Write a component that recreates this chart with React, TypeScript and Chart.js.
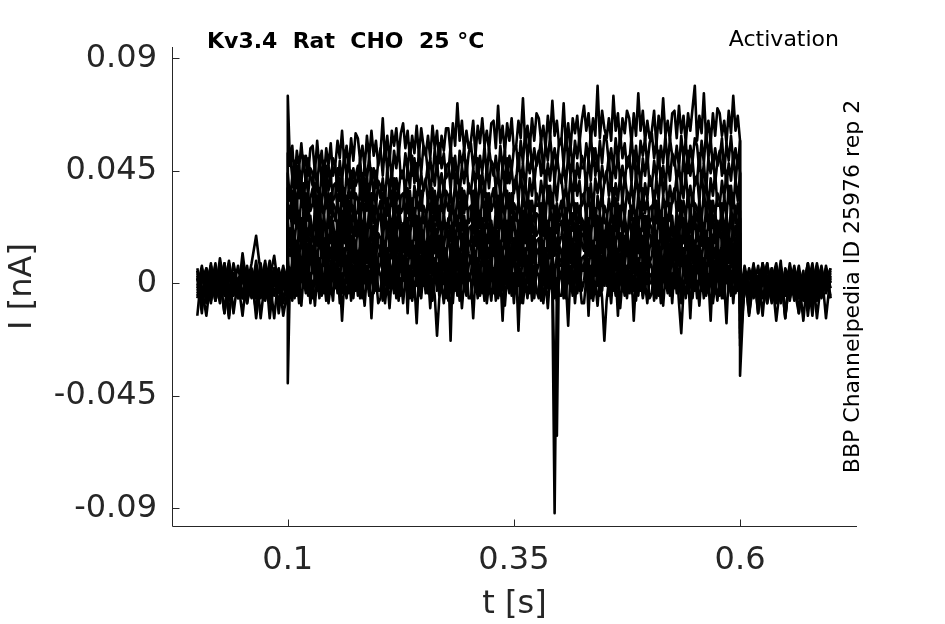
import React, { useEffect, useRef } from "react";
import { Chart, registerables } from "chart.js";

Chart.register(...registerables);

// Time grid in milliseconds (the repeated 100 and 600 entries give the vertical step edges)
const TIME_MS = [
  0, 5, 10, 15, 20, 25, 30, 35, 40, 45,
  50, 55, 60, 65, 70, 75, 80, 85, 90, 95, 100,
  100,
  102.5, 105, 107.5, 110, 112.5, 115, 117.5, 120, 122.5, 125,
  127.5, 130, 132.5, 135, 137.5, 140, 142.5, 145, 147.5, 150,
  152.5, 155, 157.5, 160, 162.5, 165, 167.5, 170, 172.5, 175,
  177.5, 180, 182.5, 185, 187.5, 190, 192.5, 195, 197.5, 200,
  202.5, 205, 207.5, 210, 212.5, 215, 217.5, 220, 222.5, 225,
  227.5, 230, 232.5, 235, 237.5, 240, 242.5, 245, 247.5, 250,
  252.5, 255, 257.5, 260, 262.5, 265, 267.5, 270, 272.5, 275,
  277.5, 280, 282.5, 285, 287.5, 290, 292.5, 295, 297.5, 300,
  302.5, 305, 307.5, 310, 312.5, 315, 317.5, 320, 322.5, 325,
  327.5, 330, 332.5, 335, 337.5, 340, 342.5, 345, 347.5, 350,
  352.5, 355, 357.5, 360, 362.5, 365, 367.5, 370, 372.5, 375,
  377.5, 380, 382.5, 385, 387.5, 390, 392.5, 395, 397.5, 400,
  402.5, 405, 407.5, 410, 412.5, 415, 417.5, 420, 422.5, 425,
  427.5, 430, 432.5, 435, 437.5, 440, 442.5, 445, 447.5, 450,
  452.5, 455, 457.5, 460, 462.5, 465, 467.5, 470, 472.5, 475,
  477.5, 480, 482.5, 485, 487.5, 490, 492.5, 495, 497.5, 500,
  502.5, 505, 507.5, 510, 512.5, 515, 517.5, 520, 522.5, 525,
  527.5, 530, 532.5, 535, 537.5, 540, 542.5, 545, 547.5, 550,
  552.5, 555, 557.5, 560, 562.5, 565, 567.5, 570, 572.5, 575,
  577.5, 580, 582.5, 585, 587.5, 590, 592.5, 595, 597.5, 600,
  600,
  605, 610, 615, 620, 625, 630, 635, 640, 645, 650,
  655, 660, 665, 670, 675, 680, 685, 690, 695, 700,
];

// Current traces in pA (1 pA = 0.001 nA): pre-step, onset, step (20 rows), offset, post-step
const I01 = [
  2, -12, 6, -3, 8, -6, 1, -14, 4, -2,
  7, -4, 0, -11, 5, -1, 9, -5, 3, -13, -2,
  -40,
  4, -7, 6, -5, 2, -9, 3, -4, 5, -8,
  1, -9, 3, -6, 7, -4, 4, -8, 0, -7,
  6, -4, 3, -15, 1, -6, 5, -7, 4, -3,
  3, -6, 0, -9, 4, -5, 6, -4, 2, -8,
  -6, 5, -8, 1, -10, 3, -3, 4, -7, 2,
  -8, 2, -5, 6, -7, 0, -16, 3, -6, 5,
  -4, 4, -10, 2, -5, -21, -6, 0, -8, 3,
  -7, 1, -8, 5, -4, 3, -10, 1, -5, 4,
  1, -14, 3, -6, 7, -4, 4, -8, 0, -7,
  4, -7, 6, -5, 2, -9, 3, -4, 5, -8,
  6, -19, 3, -8, 1, -6, 5, -7, 4, -3,
  -6, 5, -8, 1, -10, 3, -3, 4, -7, 2,
  3, -6, 0, -17, 4, -5, 6, -4, 2, -8,
  -8, 2, -5, 6, -7, 0, -9, 3, -6, -23,
  -7, 1, -8, 5, -4, 3, -10, 1, -5, 4,
  -4, 4, -15, 2, -5, 5, -6, 0, -8, 3,
  4, -7, 6, -5, 2, -9, 3, -4, 5, -8,
  6, -4, 3, -8, 1, -6, 5, -14, 4, -3,
  1, -9, 3, -6, 7, -4, 4, -8, 0, -7,
  3, -6, 0, -16, 4, -5, 6, -4, 2, -8,
  -3,
  5, -13, 2, -8, 7, -3, 4, -15, 1, -5,
  8, -2, -12, 3, -4, 6, -14, 2, -3, 5,
];
const I02 = [
  -13, 6, -1, 4, -7, 3, -12, 8, -2, 1,
  -6, 5, -3, 7, -14, 2, -4, 6, -1, 3, 5,
  3,
  -4, 7, -6, 3, -8, 5, -1, 6, -5, 4,
  -6, 4, -3, 8, -5, 2, -7, 5, -4, 7,
  -2, 6, -8, 4, -3, 7, -4, 2, -6, 5,
  -5, 3, -6, 7, -2, 5, -14, 3, -3, 6,
  3, -7, 5, -4, 9, -2, 6, -6, 2, -5,
  8, -2, 5, -6, 3, -4, 7, -5, 6, -1,
  5, -4, 2, -7, 6, -3, 8, -2, 4, -6,
  6, -23, 8, -3, 4, -7, 5, -2, 7, -6,
  -6, 4, -3, 8, -5, 2, -7, 5, -4, 7,
  -4, 7, -6, 3, -15, 5, -1, 6, -5, 4,
  -2, 6, -8, 4, -3, 7, -4, 2, -6, 5,
  3, -7, 5, -4, 9, -2, 6, -6, 2, -5,
  -5, 3, -6, 7, -2, 5, -8, 3, -3, 6,
  8, -2, 5, -6, 3, -4, 7, -5, 6, -1,
  6, -5, 8, -3, 4, -13, 5, -2, 7, -6,
  5, -4, 2, -7, 6, -3, 8, -2, 4, -6,
  -4, 7, -6, 3, -8, 5, -1, 6, -5, 4,
  -2, 6, -8, -20, -3, 7, -4, 2, -6, 5,
  -6, 4, -3, 8, -5, 2, -15, 5, -4, 7,
  -5, 3, -6, 7, -2, 5, -8, 3, -3, 6,
  -6,
  2, -7, 5, -12, 8, -5, 1, -2, 6, -14,
  4, -1, 7, -5, 3, -13, 5, -2, 0, 6,
];
const I03 = [
  5, -2, -13, 3, -4, 10, -1, 6, -12, 2,
  4, -8, 1, 6, -3, 8, -14, 2, -2, 7, -4,
  7,
  6, -4, 8, -1, 12, 1, 9, -3, 5, -2,
  11, 1, 8, -3, 6, -1, 10, -2, 9, 2,
  8, -1, 5, -4, 9, 0, 11, 1, 7, -3,
  9, -2, 11, 0, 7, -4, 8, 1, 10, -3,
  -3, 7, 0, 11, -2, 5, -4, 8, -1, 10,
  1, 9, -12, 7, 0, 10, -1, 5, -3, 8,
  -2, 6, -3, 10, 1, 8, -5, 6, 0, 9,
  -1, 10, -3, 6, -5, 8, 2, 9, -2, 7,
  11, 1, 8, -3, 6, -1, 10, -2, 9, 2,
  6, -4, 8, -1, 12, 1, 9, -3, 5, -2,
  8, -1, 5, -4, 9, 0, 11, 1, 7, -3,
  -3, 7, 0, 11, -2, 5, -4, -92, -1, 10,
  9, -2, 11, 0, 7, -4, 8, 1, 10, -3,
  1, 9, -13, 7, 0, 10, -1, 5, -3, 8,
  -1, 10, -3, 6, -5, 8, 2, 9, -2, 7,
  -2, 6, -3, 10, 1, 8, -5, 6, 0, 9,
  6, -4, 8, -1, 12, 1, 9, -3, 5, -2,
  8, -1, 5, -4, 9, 0, 11, 1, 7, -3,
  11, 1, 8, -3, 6, -1, 10, -2, 9, 2,
  9, -2, 11, 0, 7, -4, 8, 1, 10, -3,
  -9,
  -4, 6, -1, 3, -13, 8, -3, 5, -6, 2,
  -2, 7, -12, 1, -8, 4, -1, 6, -14, 3,
];
const I04 = [
  -6, 3, -1, 7, -5, 2, -12, 4, 0, -3,
  6, -2, 5, -14, 1, -4, 7, -1, 3, -7, 2,
  9,
  0, 10, 3, 14, 1, 8, -1, 11, 2, 13,
  4, 12, -2, 10, 3, 13, 2, 8, 0, 11,
  1, 9, 0, 13, 4, 11, -2, 9, 3, 12,
  2, 13, 0, 9, -2, 11, 5, 12, 1, 10,
  14, 4, 11, 0, 9, 2, 13, 1, 12, 5,
  11, 2, 8, -1, 12, 3, 14, 4, 10, 0,
  12, 1, 14, 3, 10, -1, 11, 4, 13, 0,
  9, -1, 11, 2, 15, 4, 12, 0, 8, 1,
  4, 12, -2, 10, 3, 13, 2, 8, 0, 11,
  0, 10, 3, 14, 1, 8, -1, 11, 2, 13,
  1, 9, 0, 13, 4, 11, -2, 9, 3, 12,
  14, 4, 11, 0, 9, 2, 13, 1, 12, 5,
  2, 13, 0, 9, -2, 11, 5, 12, 1, 10,
  11, 2, 8, -1, 12, 3, 14, 4, 10, 0,
  9, -1, 11, 2, 15, 4, 12, 0, 8, 1,
  12, 1, 14, 3, 10, -1, 11, 4, 13, 0,
  0, 10, 3, 14, 1, 8, -1, 11, 2, 13,
  1, 9, 0, 13, 4, 11, -2, 9, 3, 12,
  4, 12, -2, 10, 3, 13, 2, 8, 0, 11,
  2, 13, 0, 9, -2, 11, 5, 12, 1, 10,
  -12,
  3, -5, 7, -2, 4, -8, 1, 6, -4, 2,
  -7, 5, 0, -3, 8, -6, 3, -1, 5, -5,
];
const I05 = [
  4, -7, 2, -3, 6, -1, 8, -6, 3, -4,
  1, 7, -5, 2, -2, 5, -8, 4, -1, 6, -3,
  14,
  18, 8, 15, 4, 13, 6, 17, 5, 16, 9,
  15, 6, 12, 3, 16, 7, 18, 8, 14, 4,
  16, 5, 18, 7, 14, 3, 15, 8, 17, 4,
  13, 3, 15, 6, 19, 8, 16, 4, 12, 5,
  8, 16, 2, 14, 7, 17, 6, 12, 4, 15,
  5, 13, 4, 17, 8, 15, 2, 13, 7, 16,
  6, 17, 4, 13, 2, 15, 9, 16, 5, 14,
  4, 14, 7, 18, 5, 12, 3, 15, 6, 17,
  15, 6, 12, 3, 16, 7, 18, 8, 14, 4,
  18, 8, 15, 4, 13, 6, 17, 5, 16, 9,
  16, 5, 18, 7, 14, 3, 15, 8, 17, 4,
  8, 16, 2, 14, 7, 17, 6, -43, -61, 15,
  13, 3, 15, 6, 19, 8, 16, 4, 12, 5,
  5, 13, 4, 17, 8, 15, 2, 13, 7, 16,
  4, 14, 7, 18, 5, 12, 3, 15, 6, 17,
  6, 17, 4, 13, 2, 15, 9, 16, 5, 14,
  18, 8, 15, 4, 13, 6, 17, 5, 16, 9,
  16, 5, 18, 7, 14, 3, 15, 8, 17, 4,
  15, 6, 12, 3, 16, 7, 18, 8, 14, 4,
  13, 3, 15, 6, 19, 8, 16, 4, 12, 5,
  -8,
  5, -3, 8, -12, 2, -1, 6, -4, 9, -13,
  1, -5, 4, -2, 7, -8, 3, -3, 6, 0,
];
const I06 = [
  -1, 5, -4, 8, -7, 3, -2, 6, -5, 1,
  -13, 4, -3, 9, -6, 2, -1, 5, -12, 3, 0,
  15,
  11, 19, 5, 17, 10, 20, 9, 15, 7, 18,
  8, 16, 7, 20, 11, 18, 5, 16, 10, 19,
  9, 20, 7, 16, 5, 18, 12, 19, 8, 17,
  7, 17, 10, 21, 8, 15, 6, 18, 9, 20,
  18, 9, 15, 6, 19, 10, 21, 11, 17, 7,
  19, 8, 21, 10, 17, 6, 18, 11, 20, 7,
  16, 6, 18, 9, 22, 11, 19, 7, 15, 8,
  21, 11, 18, 7, 16, 9, 20, 8, 19, 12,
  8, 16, 7, 20, 11, 18, 5, 16, 10, 19,
  11, 19, 5, 17, 10, 20, 9, 15, 7, 18,
  9, 20, 7, 16, 5, 18, 12, 19, 8, 17,
  18, 9, 15, 6, 19, 10, 21, 11, 17, 7,
  7, 17, 10, 21, 8, 15, 6, 18, 9, 20,
  19, 8, 21, 10, 17, 6, 18, 11, 20, 7,
  21, 11, 18, 7, 16, 9, 20, 8, 19, 12,
  16, 6, 18, 9, 22, 11, 19, 7, 15, 8,
  11, 19, 5, 17, 10, 20, 9, 15, 7, 18,
  9, 20, 7, 16, 5, 18, 12, 19, 8, 17,
  8, 16, 7, 20, 11, 18, 5, 16, 10, 19,
  7, 17, 10, 21, 8, 15, 6, 18, 9, 20,
  -15,
  -4, 5, -2, 7, -6, 3, -8, 1, 6, -3,
  4, -7, 2, -1, 8, -5, 5, -4, 3, -6,
];
const I07 = [
  6, -4, 1, -8, 5, -2, 7, -5, 2, -6,
  3, -1, 8, 19, 4, -7, 1, 6, -3, 5, -5,
  20,
  22, 13, 19, 10, 23, 14, 25, 15, 21, 11,
  23, 12, 25, 14, 21, 10, 22, 15, 24, 11,
  20, 10, 22, 13, 26, 15, 23, 11, 19, 12,
  25, 15, 22, 11, 20, 13, 24, 12, 23, 16,
  12, 20, 11, 24, 15, 22, 9, 20, 14, 23,
  13, 24, 11, 20, 9, 22, 16, 23, 12, 21,
  11, 21, 14, 25, 12, 19, 10, 22, 13, 24,
  15, 23, 9, 21, 14, 24, 13, 19, 11, 22,
  23, 12, 25, 14, 21, 10, 22, 15, 24, 11,
  22, 13, 19, 10, 23, 14, 25, 15, 21, 11,
  20, 10, 22, 13, 26, 15, 23, 11, 19, 12,
  12, 20, 11, 24, 15, 22, 9, 20, 14, 23,
  25, 15, 22, 11, 20, 13, 24, 12, 23, 16,
  13, 24, 11, 20, 9, 22, 16, 23, 12, 21,
  15, 23, 9, 21, 14, 24, 13, 19, 11, 22,
  11, 21, 14, 25, 12, 19, 10, 22, 13, 24,
  22, 13, 19, 10, 23, 14, 25, 15, 21, 11,
  20, 10, 22, 13, 26, 15, 23, 11, 19, 12,
  23, 12, 25, 14, 21, 10, 22, 15, 24, 11,
  25, 15, 22, 11, 20, 13, 24, 12, 23, 16,
  -6,
  7, -2, 4, -6, 1, 8, -4, 3, -7, 5,
  -1, 6, -5, 2, -3, 7, -6, 4, -2, 1,
];
const I08 = [
  -5, 2, -3, 7, -6, 4, -1, 9, -4, 1,
  5, -7, 3, -2, 6, -5, 2, -14, 4, -1, 7,
  24,
  16, 24, 15, 28, 19, 26, 13, 24, 18, 27,
  17, 28, 15, 24, 13, 26, 20, 27, 16, 25,
  15, 25, 18, 29, 16, 23, 14, 26, 17, 28,
  19, 27, 13, 25, 18, 28, 17, 23, 15, 26,
  27, 16, 29, 18, 25, 14, 26, 19, 28, 15,
  24, 14, 26, 17, 30, 19, 27, 15, 23, 16,
  29, 19, 26, 15, 24, 17, 28, 16, 27, 20,
  26, 17, 23, 14, 27, 18, 29, 19, 25, 15,
  17, 28, 15, 24, 13, 26, 20, 27, 16, 25,
  16, 24, 15, 28, 19, 26, 13, 24, 18, 27,
  15, 25, 18, 29, 16, 23, 14, 26, 17, 28,
  27, 16, 29, 18, 25, 14, 26, 19, 28, 15,
  19, 27, 13, 25, 18, 28, 17, 23, 15, 26,
  24, 14, 26, 17, 30, 19, 27, 15, 23, 16,
  26, 17, 23, 14, 27, 18, 29, 19, 25, 15,
  29, 19, 26, 15, 24, 17, 28, 16, 27, 20,
  16, 24, 15, 28, 19, 26, 13, 24, 18, 27,
  15, 25, 18, 29, 16, 23, 14, 26, 17, 28,
  17, 28, 15, 24, 13, 26, 20, 27, 16, 25,
  19, 27, 13, 25, 18, 28, 17, 23, 15, 26,
  -10,
  -3, 4, -6, 2, -1, 7, -5, 3, -8, 6,
  2, -4, 5, -7, 1, -2, 8, -3, 4, -6,
];
const I09 = [
  3, -6, 5, -1, 2, -8, 6, -3, 4, -5,
  12, -2, 1, -6, 7, -4, 3, -1, 5, -8, 2,
  28,
  31, 20, 33, 22, 29, 18, 30, 23, 32, 19,
  19, 29, 22, 33, 20, 27, 18, 30, 21, 32,
  30, 21, 27, 18, 31, 22, 33, 23, 29, 19,
  21, 32, 19, 28, 17, 30, 24, 31, 20, 29,
  33, 23, 30, 19, 28, 21, 32, 20, 31, 24,
  20, 28, 19, 32, 23, 30, 17, 28, 22, 31,
  28, 18, 30, 21, 34, 23, 31, 19, 27, 20,
  23, 31, 17, 29, 22, 32, 21, 27, 19, 30,
  31, 20, 33, 22, 29, 18, 30, 23, 32, 19,
  19, 29, 22, 33, 20, 27, 18, 30, 21, 32,
  30, 21, 27, 18, 31, 22, 33, 23, 29, 19,
  21, 32, 19, 28, 17, 30, 24, 31, 20, 29,
  33, 23, 30, 19, 28, 21, 32, 20, 31, 24,
  20, 28, 19, 32, 23, 30, 17, 28, 22, 31,
  28, 18, 30, 21, 34, 23, 31, 19, 27, 20,
  23, 31, 17, 29, 22, 32, 21, 27, 19, 30,
  31, 20, 33, 22, 29, 18, 30, 23, 32, 19,
  19, 29, 22, 33, 20, 27, 18, 30, 21, 32,
  30, 21, 27, 18, 31, 22, 33, 23, 29, 19,
  21, 32, 19, 28, 17, 30, 24, 31, 20, 29,
  -18,
  5, -1, 3, -6, 8, -3, 2, -7, 4, -2,
  -5, 6, -1, 3, -8, 5, -2, 7, -4, 2,
];
const I10 = [
  -2, 7, -5, 3, -7, 1, 5, -4, 8, -1,
  -6, 3, -3, 6, -2, 9, -7, 2, -4, 4, 1,
  32,
  26, 37, 24, 33, 22, 35, 29, 36, 25, 34,
  38, 28, 35, 24, 33, 26, 37, 25, 36, 29,
  25, 33, 24, 37, 28, 35, 22, 33, 27, 36,
  33, 23, 35, 26, 39, 28, 36, 24, 32, 25,
  28, 36, 22, 34, 27, 37, 26, 32, 24, 35,
  36, 25, 38, 27, 34, 23, 35, 28, 37, 24,
  24, 34, 27, 38, 25, 32, 23, 35, 26, 37,
  35, 26, 32, 23, 36, 27, 38, 28, 34, 24,
  26, 37, 24, 33, 22, 35, 29, 36, 25, 34,
  38, 28, 35, 24, 33, 26, 37, 25, 36, 29,
  25, 33, 24, 37, 28, 35, 22, 33, 27, 36,
  33, 23, 35, 26, 39, 28, 36, 24, 32, 25,
  28, 36, 22, 34, 27, 37, 26, 32, 24, 35,
  36, 25, 38, 27, 34, 23, 35, 28, 37, 24,
  24, 34, 27, 38, 25, 32, 23, 35, 26, 37,
  35, 26, 32, 23, 36, 27, 38, 28, 34, 24,
  26, 37, 24, 33, 22, 35, 29, 36, 25, 34,
  38, 28, 35, 24, 33, 26, 37, 25, 36, 29,
  25, 33, 24, 37, 28, 35, 22, 33, 27, 36,
  33, 23, 35, 26, 39, 28, 36, 24, 32, 25,
  -22,
  4, -12, 2, -3, 6, -5, 1, 8, -4, 3,
  -6, 2, -2, 5, -13, 4, -1, 6, -3, 1,
];
const I11 = [
  5, -3, 2, -7, 4, -4, 7, -2, 1, -6,
  3, -8, 6, -1, 4, -5, 2, 11, -3, 1, -4,
  38,
  37, 27, 39, 30, 43, 32, 40, 28, 36, 29,
  32, 40, 26, 38, 31, 41, 30, 36, 28, 39,
  40, 29, 42, 31, 38, 27, 39, 32, 41, 28,
  28, 38, 31, 42, 29, 36, 27, 39, 30, 41,
  39, 30, 36, 27, 40, 31, 42, 32, 38, 28,
  30, 41, 28, 37, 26, 39, 33, 40, 29, 38,
  42, 32, 39, 28, 37, 30, 41, 29, 40, 33,
  29, 37, 28, 41, 32, 39, 26, 37, 31, 40,
  37, 27, 39, 30, 43, 32, 40, 28, 36, 29,
  32, 40, 26, 38, 31, 41, 30, 36, 28, 39,
  43, 32, 45, 34, 41, 30, 42, 35, 44, 31,
  31, 41, 34, 45, 32, 39, 30, 42, 33, 44,
  42, 33, 39, 30, 43, 34, 45, 35, 41, 31,
  33, 44, 31, 40, 29, 42, 36, 43, 32, 41,
  45, 35, 42, 31, 40, 33, 44, 32, 43, 36,
  32, 40, 31, 44, 35, 42, 29, 40, 34, 43,
  40, 30, 42, 33, 46, 35, 43, 31, 39, 32,
  35, 43, 29, 41, 34, 44, 33, 39, 31, 42,
  43, 32, 45, 34, 41, 30, 42, 35, 44, 31,
  31, 41, 34, 45, 32, 39, 30, 42, 33, 44,
  -11,
  2, -5, 6, -1, 3, -8, 5, -3, 7, -2,
  -4, 3, -6, 1, 5, -2, -7, 4, -1, 6,
];
const I12 = [
  -4, 1, 6, -5, 3, -2, 8, -7, 2, -1,
  5, -3, 4, -6, 1, 7, -4, 3, -8, 2, -2,
  44,
  33, 43, 36, 47, 34, 41, 32, 44, 35, 46,
  44, 35, 41, 32, 45, 36, 47, 37, 43, 33,
  35, 46, 33, 42, 31, 44, 38, 45, 34, 43,
  47, 37, 44, 33, 42, 35, 46, 34, 45, 38,
  34, 42, 33, 46, 37, 44, 31, 42, 36, 45,
  45, 35, 47, 38, 51, 40, 48, 36, 44, 37,
  40, 48, 34, 46, 39, 49, 38, 44, 36, 47,
  48, 37, 50, 39, 46, 35, 47, 40, 49, 36,
  36, 46, 39, 50, 37, 44, 35, 47, 38, 49,
  47, 38, 44, 35, 48, 39, 50, 40, 46, 36,
  41, 52, 39, 48, 37, 50, 44, 51, 40, 49,
  53, 43, 50, 39, 48, 41, 52, 40, 51, 44,
  40, 48, 39, 52, 43, 50, 37, 48, 42, 51,
  48, 38, 50, 41, 54, 43, 51, 39, 47, 40,
  43, 51, 37, 49, 42, 52, 41, 47, 39, 50,
  51, 40, 53, 42, 49, 38, 50, 43, 52, 39,
  39, 49, 42, 53, 40, 47, 38, 50, 41, 52,
  50, 41, 47, 38, 51, 42, 53, 43, 49, 39,
  41, 52, 39, 48, 37, 50, 44, 51, 40, 49,
  53, 43, 50, 39, 48, 41, 52, 40, 51, 44,
  -25,
  -2, 5, -4, 1, 7, -6, 3, -1, 4, -14,
  6, -3, 2, -5, 4, -1, 7, -6, 3, -2,
];
const I13 = [
  2, -6, 4, -1, 7, -3, 5, -13, 3, -2,
  6, -5, 1, -3, 8, -6, 4, -1, 2, -7, 5,
  52,
  52, 42, 49, 38, 47, 40, 51, 39, 50, 43,
  39, 47, 38, 51, 42, 49, 36, 47, 41, 50,
  47, 37, 49, 40, 53, 42, 50, 38, 46, 39,
  42, 50, 36, 48, 41, 51, 40, 46, 38, 49,
  54, 43, 56, 45, 52, 41, 53, 46, 55, 42,
  42, 52, 45, 56, 43, 50, 41, 53, 44, 55,
  53, 44, 50, 41, 54, 45, 56, 46, 52, 42,
  44, 55, 42, 51, 40, 53, 47, 54, 43, 52,
  56, 46, 53, 42, 51, 44, 55, 43, 54, 47,
  43, 51, 42, 55, 46, 53, 40, 51, 45, 54,
  55, 45, 57, 48, 61, 50, 58, 46, 54, 47,
  50, 58, 44, 56, 49, 59, 48, 54, 46, 57,
  58, 47, 60, 49, 56, 45, 57, 50, 59, 46,
  46, 56, 49, 60, 47, 54, 45, 57, 48, 59,
  57, 48, 54, 45, 58, 49, 60, 50, 56, 46,
  48, 59, 46, 55, 44, 57, 51, 58, 47, 56,
  60, 50, 57, 46, 55, 48, 59, 47, 58, 51,
  47, 55, 46, 59, 50, 57, 44, 55, 49, 58,
  55, 45, 57, 48, 61, 50, 58, 46, 54, 47,
  50, 58, 44, 56, 49, 59, 48, 54, 46, 57,
  -20,
  4, -3, 7, -5, 2, -1, 6, -8, 3, -4,
  -2, 5, -6, 3, -1, 8, -5, 2, -3, 4,
];
const I14 = [
  -3, 4, -8, 2, -1, 6, -5, 3, -2, 7,
  -4, 1, -6, 5, -1, 3, -7, 2, 6, -2, -5,
  75,
  47, 55, 41, 53, 46, 56, 45, 51, 43, 54,
  55, 44, 57, 46, 53, 42, 54, 47, 56, 43,
  47, 57, 50, 61, 48, 55, 46, 58, 49, 60,
  58, 49, 55, 46, 59, 50, 61, 51, 57, 47,
  52, 66, 50, 59, 48, 61, 55, 62, 51, 60,
  64, 54, 61, 50, 59, 52, 63, 51, 62, 55,
  51, 59, 50, 63, 54, 61, 48, 59, 53, 62,
  62, 52, 64, 55, 72, 57, 65, 53, 61, 54,
  57, 65, 51, 63, 56, 66, 55, 61, 53, 64,
  65, 54, 71, 56, 63, 52, 64, 57, 66, 53,
  55, 65, 58, 74, 56, 63, 54, 66, 57, 68,
  66, 57, 63, 54, 67, 58, 73, 59, 65, 55,
  57, 72, 55, 64, 53, 66, 60, 67, 56, 65,
  71, 61, 68, 57, 66, 59, 79, 58, 69, 62,
  58, 66, 57, 75, 61, 68, 55, 66, 60, 69,
  66, 56, 68, 59, 76, 61, 69, 57, 65, 58,
  61, 69, 55, 67, 60, 74, 59, 65, 57, 68,
  69, 58, 71, 60, 67, 56, 68, 61, 70, 79,
  57, 67, 60, 76, 58, 65, 56, 68, 59, 70,
  68, 59, 65, 56, 69, 60, 75, 61, 67, 57,
  -37,
  3, -6, 5, -2, 8, -4, 1, -7, 4, -1,
  6, -3, 2, -15, 5, -1, 3, -5, 7, -2,
];

const TRACES_PA = [I01, I02, I03, I04, I05, I06, I07, I08, I09, I10, I11, I12, I13, I14];

const X_TICKS = [0.1, 0.35, 0.6];
const X_TICK_LABELS = ["0.1", "0.35", "0.6"];
const Y_TICKS = [-0.09, -0.045, 0, 0.045, 0.09];
const Y_TICK_LABELS = ["-0.09", "-0.045", "0", "0.045", "0.09"];

const TITLE = "Kv3.4  Rat  CHO  25 °C";
const PROTOCOL = "Activation";
const SIDE_TEXT = "BBP Channelpedia ID 25976 rep 2";
const X_LABEL = "t [s]";
const Y_LABEL = "I [nA]";

const FONT = "DejaVu Sans";
const AXIS_COLOR = "#262626";

const decorPlugin = {
  id: "decor",
  afterDraw(chart: any) {
    const { ctx, chartArea: a, scales } = chart;
    ctx.save();
    ctx.strokeStyle = AXIS_COLOR;
    ctx.lineWidth = 1;
    ctx.beginPath();
    const lx = Math.round(a.left) + 0.5;
    const by = Math.round(a.bottom) + 0.5;
    ctx.moveTo(lx, a.top);
    ctx.lineTo(lx, by);
    ctx.lineTo(a.right, by);
    for (const v of Y_TICKS) {
      const y = Math.round(scales.y.getPixelForValue(v)) + 0.5;
      ctx.moveTo(lx, y);
      ctx.lineTo(lx + 7, y);
    }
    for (const v of X_TICKS) {
      const x = Math.round(scales.x.getPixelForValue(v)) + 0.5;
      ctx.moveTo(x, by);
      ctx.lineTo(x, by - 7);
    }
    ctx.stroke();

    ctx.fillStyle = "#000";
    ctx.textBaseline = "alphabetic";
    ctx.font = `bold 22px "${FONT}"`;
    ctx.textAlign = "left";
    ctx.fillText(TITLE, 207, 48);
    ctx.font = `22px "${FONT}"`;
    ctx.textAlign = "right";
    ctx.fillText(PROTOCOL, 839, 46);

    ctx.translate(859, 286.5);
    ctx.rotate(-Math.PI / 2);
    ctx.textAlign = "center";
    ctx.fillText(SIDE_TEXT, 0, 0);
    ctx.restore();
  },
};

export default function App() {
  const canvasRef = useRef<HTMLCanvasElement | null>(null);

  useEffect(() => {
    if (!canvasRef.current) return;
    const datasets = TRACES_PA.map((trace, k) => ({
      label: `trace ${k + 1}`,
      data: trace.map((v, i) => ({ x: TIME_MS[i] / 1000, y: v / 1000 })),
      borderColor: "#000000",
      backgroundColor: "#000000",
      borderWidth: 2.6,
      borderJoinStyle: "round" as const,
      pointRadius: 0,
      tension: 0,
      fill: false,
    }));

    const chart = new Chart(canvasRef.current, {
      type: "line",
      data: { datasets },
      plugins: [decorPlugin],
      options: {
        animation: false,
        responsive: true,
        maintainAspectRatio: false,
        layout: { padding: { left: 0, top: 47, right: 88, bottom: 0 } },
        plugins: {
          legend: { display: false },
          tooltip: { enabled: false },
          title: { display: false },
        },
        events: [],
        scales: {
          x: {
            type: "linear",
            min: -0.028,
            max: 0.7293,
            afterBuildTicks: (s: any) => {
              s.ticks = X_TICKS.map((v) => ({ value: v }));
            },
            afterFit: (s: any) => {
              s.height = 98;
            },
            grid: { display: false, drawTicks: false },
            border: { display: false },
            ticks: {
              autoSkip: false,
              maxRotation: 0,
              padding: 15,
              color: AXIS_COLOR,
              font: { family: FONT, size: 32 },
              callback: (_v: any, i: number) => X_TICK_LABELS[i],
            },
            title: {
              display: true,
              text: X_LABEL,
              color: AXIS_COLOR,
              font: { family: FONT, size: 32 },
              padding: { top: 0, bottom: 0 },
            },
          },
          y: {
            type: "linear",
            min: -0.0971,
            max: 0.0945,
            afterBuildTicks: (s: any) => {
              s.ticks = Y_TICKS.map((v) => ({ value: v }));
            },
            afterFit: (s: any) => {
              s.width = 172;
            },
            grid: { display: false, drawTicks: false },
            border: { display: false },
            ticks: {
              autoSkip: false,
              padding: 15,
              color: AXIS_COLOR,
              font: { family: FONT, size: 32 },
              callback: (_v: any, i: number) => Y_TICK_LABELS[i],
            },
            title: {
              display: true,
              text: Y_LABEL,
              color: AXIS_COLOR,
              font: { family: FONT, size: 32 },
              padding: { top: 3, bottom: 0 },
            },
          },
        },
      },
    });
    return () => chart.destroy();
  }, []);

  return (
    <div style={{ position: "absolute", left: 0, top: 0, width: 945, height: 624, background: "#fff" }}>
      <canvas ref={canvasRef} />
    </div>
  );
}
